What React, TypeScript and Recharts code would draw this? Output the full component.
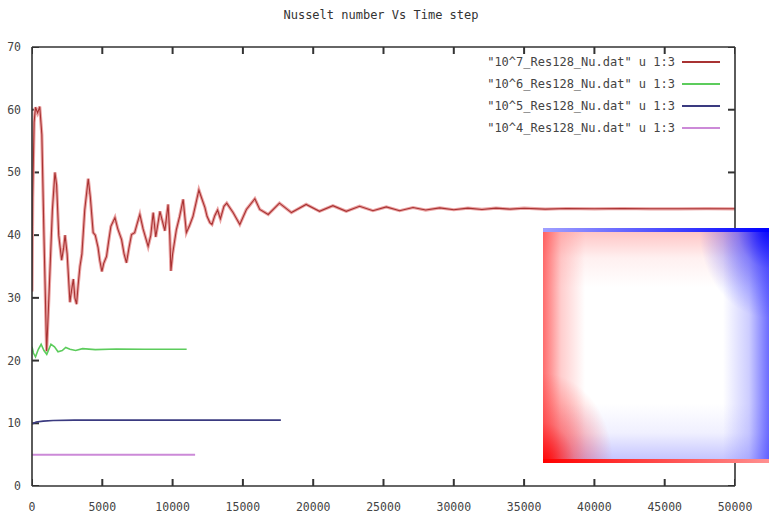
import React from 'react';
import { LineChart, Line, XAxis, YAxis, Legend } from 'recharts';

const titleText = 'Nusselt number Vs Time step';
const xTicks = [0, 5000, 10000, 15000, 20000, 25000, 30000, 35000, 40000, 45000, 50000];
const yTicks = [0, 10, 20, 30, 40, 50, 60, 70];
const seriesNames = [
  '"10^7_Res128_Nu.dat" u 1:3',
  '"10^6_Res128_Nu.dat" u 1:3',
  '"10^5_Res128_Nu.dat" u 1:3',
  '"10^4_Res128_Nu.dat" u 1:3',
];
const seriesColors = ['#a83232', '#5ccc5c', '#3a3a80', '#cc8ad8'];

// [time step, Nusselt number]
const ra1e7: [number, number][] = [
  [0, 31], [50, 46], [150, 58], [250, 60.4], [400, 59.5], [550, 60.5], [700, 56], [850, 40],
  [1040, 21.5], [1200, 30], [1450, 44], [1630, 50], [1750, 48], [1900, 40], [2110, 36],
  [2250, 38], [2350, 40], [2500, 37], [2700, 29.3], [2800, 31], [2940, 33], [3050, 30],
  [3170, 29], [3280, 32], [3410, 35], [3550, 37], [3750, 44], [4000, 49], [4150, 46],
  [4350, 40.4], [4500, 40], [4700, 38], [4820, 36], [4970, 34.2], [5100, 35.5], [5300, 36.6],
  [5450, 39], [5610, 41.4], [5900, 42.8], [6100, 41], [6370, 39.3], [6550, 37], [6720, 35.6],
  [6900, 38], [7080, 40.1], [7300, 40.4], [7500, 42], [7670, 43.3], [7900, 41], [8260, 38.2],
  [8450, 40], [8620, 43.6], [8800, 39.7], [9100, 43.8], [9300, 42], [9450, 40.7], [9680, 44.9],
  [9800, 40], [9880, 34.3], [10000, 37], [10270, 40.9], [10500, 43], [10750, 45.7], [10980, 40.4],
  [11200, 41.5], [11450, 43], [11650, 45], [11870, 47.2], [12050, 46], [12300, 44.4], [12450, 43],
  [12650, 42], [12800, 41.7], [13000, 43.1], [13200, 44], [13400, 42.6], [13650, 44.6],
  [13850, 45.1], [14300, 43.6], [14780, 41.7], [15250, 44.1], [15850, 45.8], [16200, 44.1],
  [16800, 43.3], [17600, 45.1], [18450, 43.6], [19500, 44.9], [20450, 43.8], [21400, 44.7],
  [22350, 43.8], [23300, 44.6], [24250, 43.9], [25200, 44.5], [26150, 43.9], [27100, 44.4],
  [28000, 44.0], [29000, 44.35], [30000, 44.05], [31000, 44.3], [32000, 44.1], [33000, 44.3],
  [34000, 44.15], [35000, 44.3], [36500, 44.15], [38000, 44.25], [40000, 44.2], [42000, 44.25],
  [44000, 44.2], [46000, 44.2], [48000, 44.22], [50000, 44.2],
];
const ra1e6: [number, number][] = [
  [0, 22.2], [100, 21.2], [250, 20.6], [450, 21.8], [650, 22.6], [850, 21.6], [1050, 21.0],
  [1350, 22.6], [1600, 22.2], [1850, 21.4], [2150, 21.6], [2400, 22.1], [2700, 21.8],
  [3100, 21.6], [3600, 21.9], [4500, 21.75], [6000, 21.85], [8000, 21.8], [11000, 21.8],
];
const ra1e5: [number, number][] = [
  [0, 9.9], [300, 10.2], [800, 10.35], [1500, 10.45], [3000, 10.5], [17700, 10.5],
];
const ra1e4: [number, number][] = [
  [0, 5.0], [11600, 5.0],
];

const toRows = (a: [number, number][]) => a.map(([t, nu]) => ({ t, nu }));
const d7 = toRows(ra1e7);
const d6 = toRows(ra1e6);
const d5 = toRows(ra1e5);
const d4 = toRows(ra1e4);

const X_MAX = 50000;
const Y_MAX = 70;
const PLOT_W = 703;
const PLOT_H = 439;
const TL = 7; // tick length in px
const tickDx = (TL * X_MAX) / PLOT_W;
const tickDy = (TL * Y_MAX) / PLOT_H;

// inward tick marks (gnuplot-style, mirrored on all four sides), drawn through the chart scales
const tickMarks: { t: number; nu: number }[][] = [
  ...xTicks.map((t) => [{ t, nu: 0 }, { t, nu: tickDy }]),
  ...xTicks.map((t) => [{ t, nu: Y_MAX }, { t, nu: Y_MAX - tickDy }]),
  ...yTicks.map((v) => [{ t: 0, nu: v }, { t: tickDx, nu: v }]),
  ...yTicks.map((v) => [{ t: X_MAX, nu: v }, { t: X_MAX - tickDx, nu: v }]),
];

const BORDER = '#333333';
const MONO = '"DejaVu Sans Mono", monospace';
const TXT = '#444';
const axisLineStyle = { stroke: BORDER, strokeWidth: 1.6 };

const BottomLabel = (p: any) => (
  <text x={p.x} y={p.y + 25} textAnchor="middle" fontFamily={MONO} fontSize={11.5} fill={TXT}>
    {p.payload.value}
  </text>
);
const LeftLabel = (p: any) => (
  <text x={p.x - 11} y={p.y + 4} textAnchor="end" fontFamily={MONO} fontSize={11.5} fill={TXT}>
    {p.payload.value}
  </text>
);

const LegendContent = (props: any) => {
  const items = (props.payload || [])
    .filter((e: any) => seriesNames.indexOf(e.value) >= 0)
    .sort((a: any, b: any) => seriesNames.indexOf(a.value) - seriesNames.indexOf(b.value));
  return (
    <svg width={260} height={90} style={{ display: 'block' }}>
      {items.map((e: any, i: number) => {
        const y = 14 + i * 22;
        return (
          <g key={i}>
            <text x={205} y={y + 4} textAnchor="end" fontFamily={MONO} fontSize={12} fill={TXT}>
              {e.value}
            </text>
            <line x1={212} y1={y} x2={250} y2={y} stroke={e.color} strokeWidth={1.8} />
          </g>
        );
      })}
    </svg>
  );
};

const insetStyle: React.CSSProperties = {
  position: 'absolute',
  left: 543,
  top: 228,
  width: 226,
  height: 235,
  backgroundColor: '#fff',
  backgroundImage: [
    'linear-gradient(to right, #a0a0ff, #0000ff)',
    'linear-gradient(to right, #ff0000, #ff9090)',
    'radial-gradient(ellipse 70px 90px at 0% 100%, rgba(255,0,0,0.95) 0%, rgba(255,40,40,0.45) 45%, rgba(255,0,0,0) 100%)',
    'radial-gradient(ellipse 70px 90px at 100% 0%, rgba(0,0,255,0.95) 0%, rgba(40,40,255,0.45) 45%, rgba(0,0,255,0) 100%)',
    'linear-gradient(to right, rgba(255,70,70,0.8) 0px, rgba(255,130,130,0.4) 18px, rgba(255,255,255,0) 42px)',
    'linear-gradient(to left, rgba(70,70,255,0.8) 0px, rgba(130,130,255,0.4) 20px, rgba(255,255,255,0) 46px)',
    'linear-gradient(to bottom, rgba(255,150,150,0.55) 4px, rgba(255,205,205,0.3) 30px, rgba(255,255,255,0) 60px)',
    'linear-gradient(to top, rgba(150,150,255,0.55) 4px, rgba(205,205,255,0.3) 30px, rgba(255,255,255,0) 60px)',
  ].join(','),
  backgroundSize: '100% 4px, 100% 4px, 100% 100%, 100% 100%, 100% 100%, 100% 100%, 100% 100%, 100% 100%',
  backgroundPosition: 'top left, bottom left, 0 0, 0 0, 0 0, 0 0, 0 0, 0 0',
  backgroundRepeat: 'no-repeat',
};

export default function App() {
  return (
    <div
      style={{
        position: 'absolute',
        left: 0,
        top: 0,
        width: 769,
        height: 517,
        overflow: 'hidden',
        background: '#fff',
      }}
    >
      <div
        style={{
          position: 'absolute',
          left: 0,
          top: 8,
          width: 762,
          textAlign: 'center',
          fontFamily: MONO,
          fontSize: 12,
          lineHeight: '14px',
          color: '#333',
        }}
      >
        {titleText}
      </div>
      <LineChart width={769} height={517} margin={{ top: 46, right: 33, bottom: 0, left: 0 }}>
        <XAxis
          xAxisId="b"
          type="number"
          dataKey="t"
          domain={[0, X_MAX]}
          ticks={xTicks}
          allowDataOverflow
          height={31}
          tickSize={0}
          tickMargin={0}
          tickLine={false}
          tick={BottomLabel}
          axisLine={axisLineStyle}
          interval={0}
        />
        <XAxis
          xAxisId="top"
          orientation="top"
          type="number"
          dataKey="t"
          domain={[0, X_MAX]}
          ticks={xTicks}
          allowDataOverflow
          height={1}
          tickLine={false}
          tick={false}
          axisLine={axisLineStyle}
        />
        <YAxis
          yAxisId="l"
          type="number"
          domain={[0, Y_MAX]}
          ticks={yTicks}
          allowDataOverflow
          width={32}
          tickSize={0}
          tickMargin={0}
          tickLine={false}
          tick={LeftLabel}
          axisLine={axisLineStyle}
          interval={0}
        />
        <YAxis
          yAxisId="r"
          orientation="right"
          type="number"
          domain={[0, Y_MAX]}
          ticks={yTicks}
          allowDataOverflow
          width={1}
          tickLine={false}
          tick={false}
          axisLine={axisLineStyle}
        />
        <Line xAxisId="top" yAxisId="r" data={d4} dataKey="nu" stroke="none" dot={false} legendType="none" isAnimationActive={false} />
        {tickMarks.map((seg, i) => (
          <Line key={'tk' + i} xAxisId="b" yAxisId="l" data={seg} dataKey="nu" type="linear"
            stroke={BORDER} strokeWidth={2} dot={false} activeDot={false} legendType="none" isAnimationActive={false} />
        ))}
        <Line xAxisId="b" yAxisId="l" data={d7} dataKey="nu" type="linear" stroke="#eba4a4" strokeWidth={3.2} dot={false} legendType="none" isAnimationActive={false} />
        <Line xAxisId="b" yAxisId="l" data={d7} dataKey="nu" name={seriesNames[0]} type="linear" stroke={seriesColors[0]} strokeWidth={1.1} dot={false} isAnimationActive={false} />
        <Line xAxisId="b" yAxisId="l" data={d6} dataKey="nu" name={seriesNames[1]} type="linear" stroke={seriesColors[1]} strokeWidth={1.6} dot={false} isAnimationActive={false} />
        <Line xAxisId="b" yAxisId="l" data={d5} dataKey="nu" name={seriesNames[2]} type="linear" stroke={seriesColors[2]} strokeWidth={1.6} dot={false} isAnimationActive={false} />
        <Line xAxisId="b" yAxisId="l" data={d4} dataKey="nu" name={seriesNames[3]} type="linear" stroke={seriesColors[3]} strokeWidth={2} dot={false} isAnimationActive={false} />
        <Legend
          layout="vertical"
          align="center"
          verticalAlign="middle"
          content={LegendContent}
          wrapperStyle={{ left: 470, top: 48, width: 260, height: 90 }}
        />
      </LineChart>
      <div style={insetStyle} />
    </div>
  );
}
